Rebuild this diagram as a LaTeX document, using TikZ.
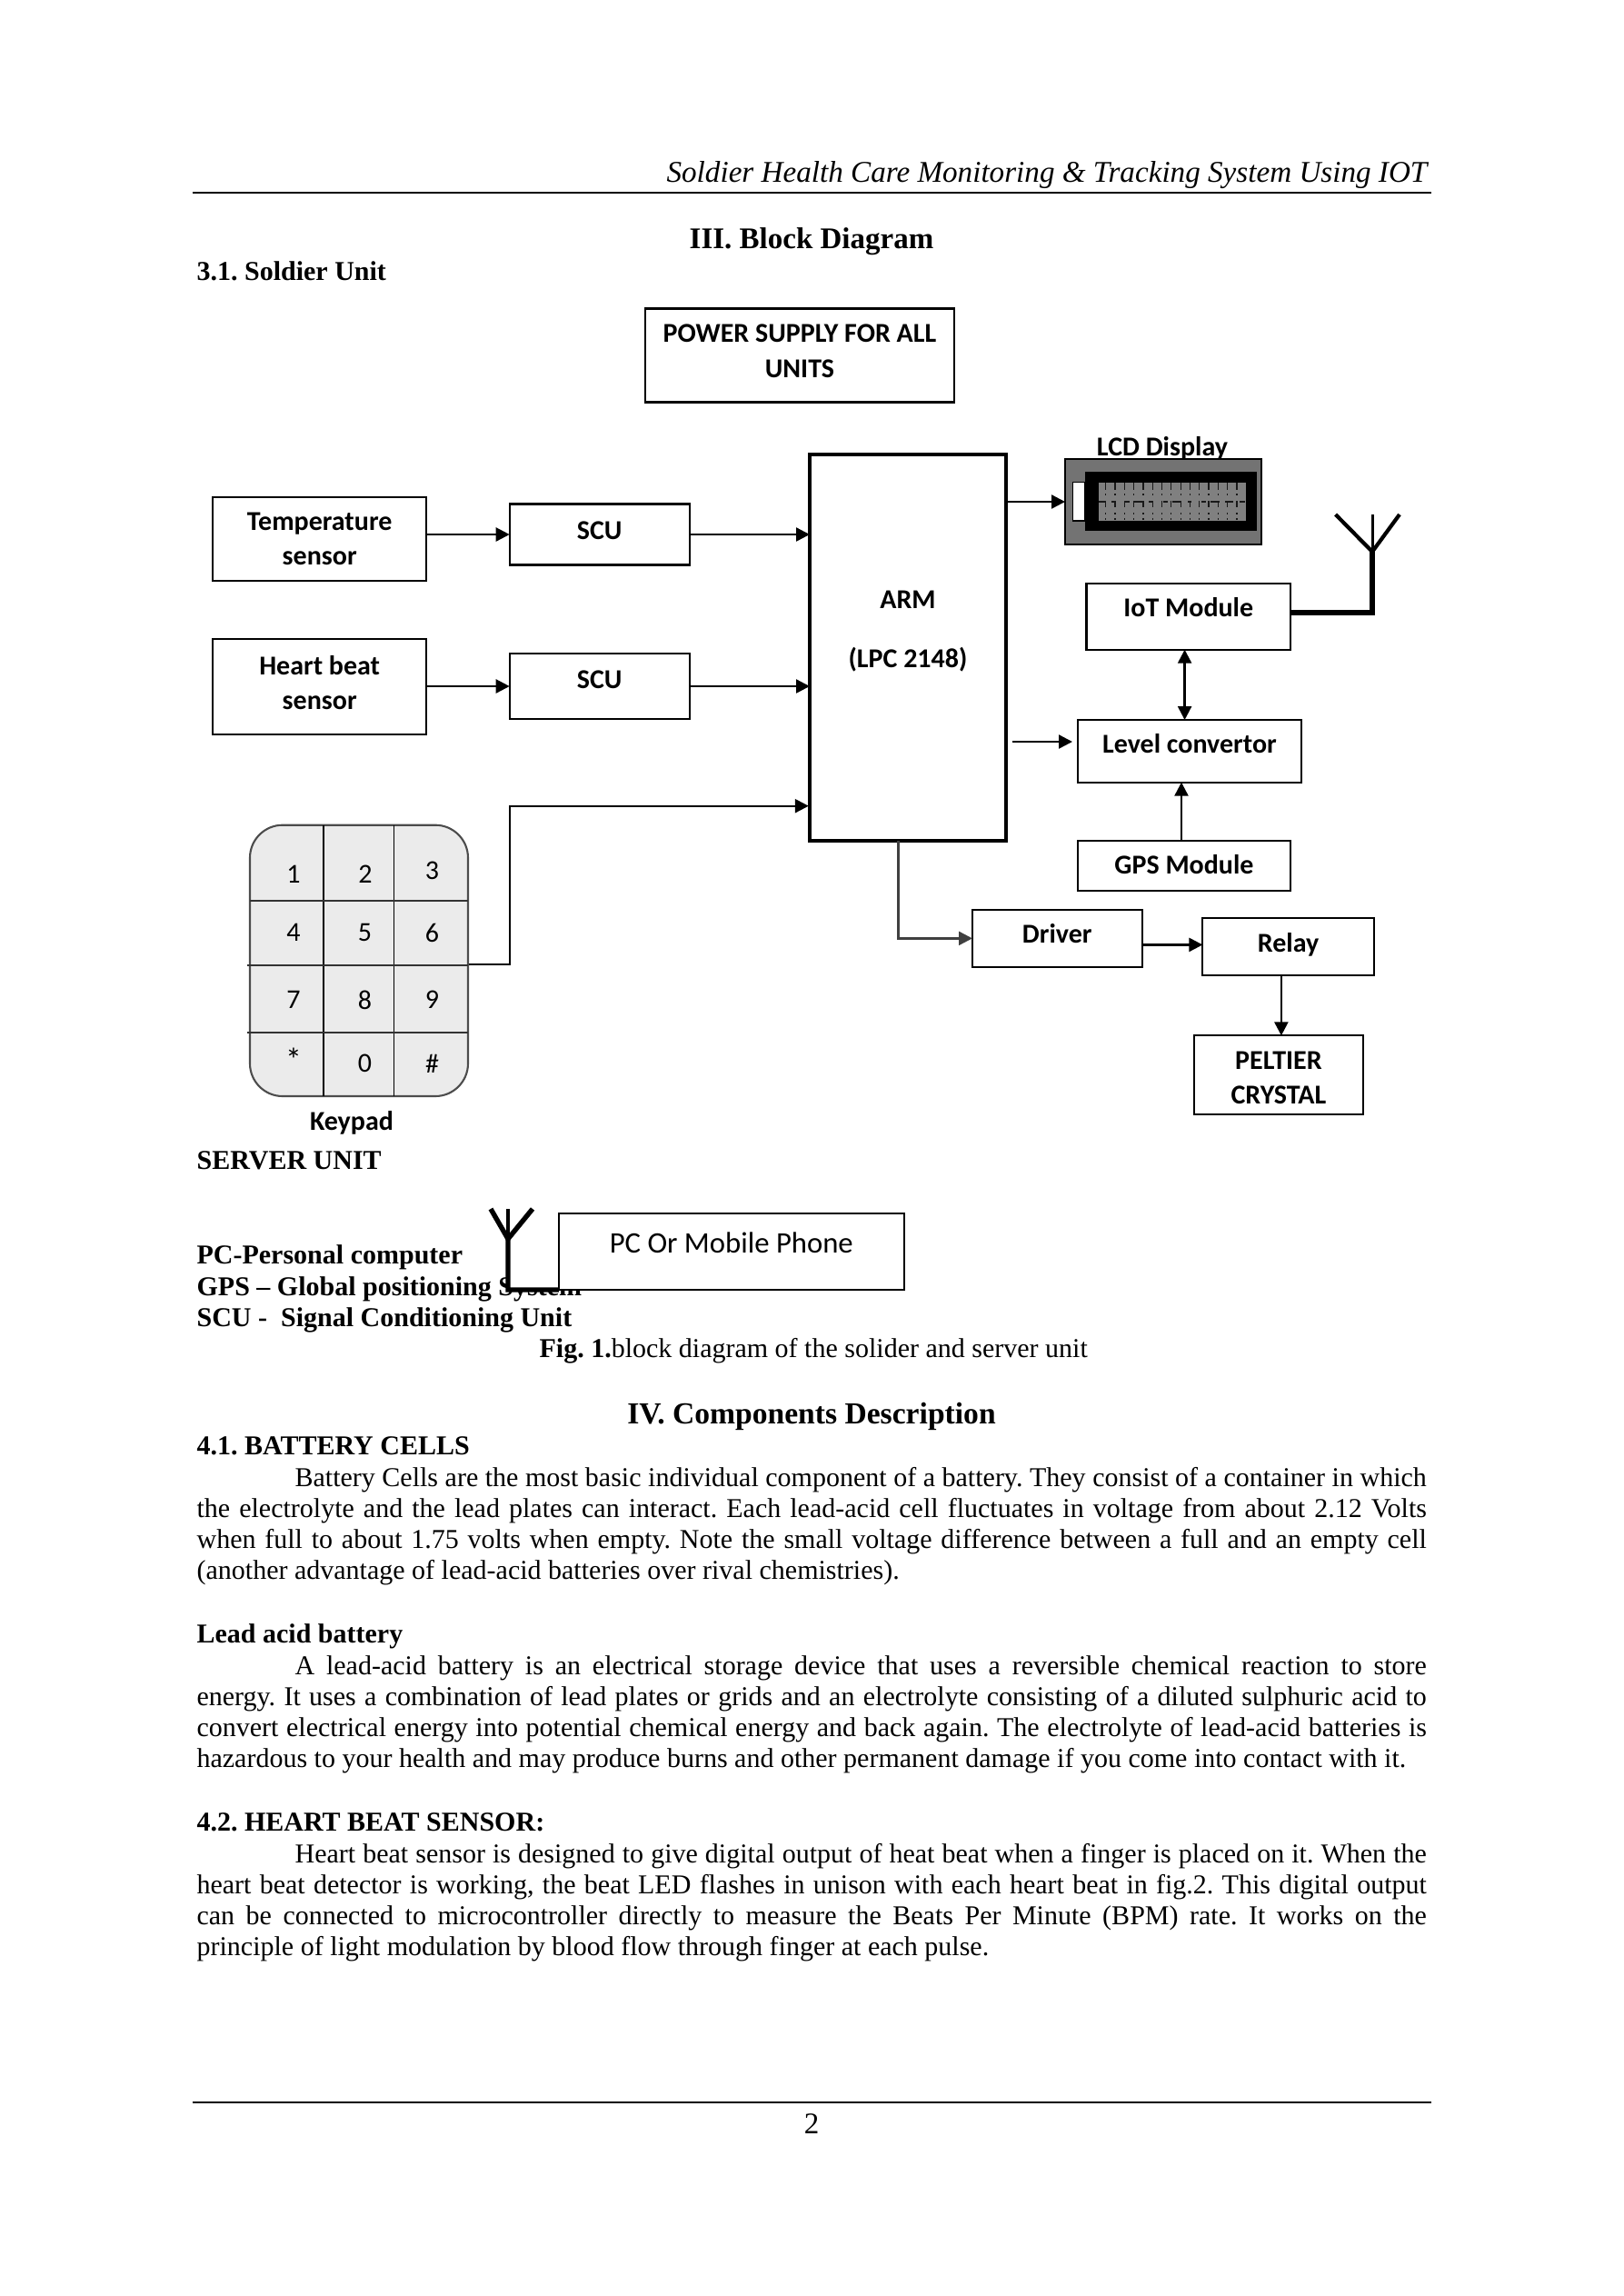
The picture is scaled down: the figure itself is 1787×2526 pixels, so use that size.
\documentclass[tikz,border=0pt]{standalone}
\usepackage{fontspec}
\setmainfont{Liberation Serif}
\newfontfamily\carlito{Carlito}
\usetikzlibrary{positioning, arrows.meta}
\frenchspacing
\tikzset{
    blockbox/.style 2 args = {draw, line width=.7bp, inner sep=0pt, outer sep=0pt, align=center,
        minimum width=#1*.3333bp, minimum height=#2*.3333bp,
        font=\carlito\bfseries\fontsize{10bp}{12.8bp}\selectfont},
    lift/.style = {text height=0pt, text depth=#1},
    drop/.style = {text height=#1, text depth=0pt},
    keydigit/.style = {inner sep=0pt, font=\carlito\fontsize{10bp}{12bp}\selectfont},
    pageline/.style = {anchor=base west, inner sep=0pt, font=\fontsize{10bp}{11.43bp}\selectfont},
    pagebold/.style = {pageline, font=\bfseries\fontsize{10bp}{12bp}\selectfont},
    pagehead/.style = {anchor=base, inner sep=0pt, font=\bfseries\fontsize{11bp}{13bp}\selectfont},
    bodypar/.style = {anchor=base west, inner sep=0pt, text width=451bp, align=justify,
        font=\fontsize{10bp}{11.43bp}\selectfont},
    flow/.style = {-{Stealth[length=5bp, width=5bp, inset=0pt]}, line width=.8bp},
    twoway/.style = {{Stealth[length=5bp, width=5bp, inset=0pt]}-{Stealth[length=5bp, width=5bp, inset=0pt]}, line width=.8bp}
}
\begin{document}
\begin{tikzpicture} [x=.3333bp, y=.3333bp, on grid]
\useasboundingbox (0,0) rectangle (1787,-2526);
% page text above the diagram
\node (runhead) [anchor=base east, inner sep=0pt, font=\itshape\fontsize{11.05bp}{13bp}\selectfont] at (1571,-200.7)
    {Soldier Health Care Monitoring \& Tracking System Using IOT};
\coordinate (headl) at (211.6,-212);
\coordinate (headr) at (1575,-212);
\draw [line width=.5bp] (headl) -- (headr);
\node (sect3) [pagehead] at (893,-273) {III. Block Diagram};
\node (soldier) [pagebold] at (216,-308) {3.1. Soldier Unit};
% blocks
\node (power) [blockbox={340}{103}, drop=16bp] at (880,-391) {POWER SUPPLY FOR ALL\\UNITS};
\node (tempbox) [blockbox={235.4}{92}, drop=19.5bp] at (351.7,-592.7) {Temperature\\sensor};
\node (heartbox) [blockbox={235.4}{105}, drop=16.9bp, below = 162.5 of tempbox] {Heart beat\\sensor};
\node (scua) [blockbox={198}{67}, drop=3.4bp] at (659.7,-588) {SCU};
\node (scub) [blockbox={198}{72.7}, drop=1.5bp, below = 167 of scua] {SCU};
\node (arm) [blockbox={216}{425}, line width=1.4bp, drop=14.5bp] at (999,-712.5) {ARM\\[8.9bp](LPC 2148)};
\node (iot) [blockbox={224.5}{72.7}, drop=.2bp] at (1307.75,-678.35) {IoT Module};
\node (level) [blockbox={246}{68.7}, drop=1.5bp] at (1309,-826.35) {Level convertor};
\node (gps) [blockbox={234}{55.3}, drop=6bp] at (1303,-952.35) {GPS Module};
\node (driver) [blockbox={186.6}{62.7}, drop=3.4bp] at (1163.3,-1032.35) {Driver};
\node (relay) [blockbox={188.4}{63}, drop=3.6bp] at (1417.6,-1041.8) {Relay};
\node (peltier) [blockbox={185.8}{86.4}, drop=21.3bp] at (1406.9,-1182.5) {PELTIER\\CRYSTAL};
% lcd
\node (lcd) [draw=black, fill=black!55, line width=.6bp, inner sep=0pt, outer sep=0pt,
    minimum width=216*.3333bp, minimum height=94*.3333bp] at (1280,-552) {};
\fill [black] (1193.5,-519) rectangle (1382.5,-584);
\filldraw [fill=white, draw=black, line width=.4bp] (1180.6,-530.7) rectangle (1193.5,-573);
\fill [black!50] (1209,-530.7) rectangle (1370.6,-573);
\foreach \i in {0,...,14} {
    \draw [black!90, line width=.4bp] (1216.7+10.3*\i,-531) -- ++(0,-8)
        (1216.7+10.3*\i,-543) -- ++(0,-2) (1216.7+10.3*\i,-551) -- ++(0,-7)
        (1216.7+10.3*\i,-564) -- ++(0,-2) (1216.7+10.3*\i,-570) -- ++(0,-2);
}
\foreach \a/\b in {1209/1217,1223/1228,1238/1243,1247/1258,1264/1269,1280/1285,1290/1300,1307/1311,1322/1327,1332/1342,1348/1357,1364/1370} {
    \draw [black!90, line width=.4bp] (\a,-552) -- (\b,-552);
}
\node (lcdlabel) [anchor=base, inner sep=0pt, font=\carlito\bfseries\fontsize{10bp}{12bp}\selectfont] at (1279,-501.6) {LCD Display};
% keypad
\node (keypad) [draw=black!70, fill=black!8, line width=.7bp, inner sep=0pt, outer sep=0pt, rounded corners=12bp,
    minimum width=240*.3333bp, minimum height=298.3*.3333bp] at (395,-1056.85) {};
\draw [line width=.5bp] (356,-907.7) -- (356,-1206) (433.7,-907.7) -- (433.7,-1206);
\draw [line width=.6bp, black!80] (275,-991.3) -- (515,-991.3);
\draw [line width=.6bp, black!80] (272,-1061.7) -- (515,-1061.7);
\draw [line width=.6bp, black!80] (272,-1136) -- (515,-1136);
\foreach \name/\txt/\x/\y in {ka/1/323/961.7, kb/2/402/961.7, kc/3/475.5/958.3,
        kd/4/323/1026, ke/5/401.5/1026, kf/6/475.5/1026,
        kg/7/323/1100, kh/8/401.5/1100, ki/9/475.5/1100,
        kj/{\large *}/323/1165.7, kk/0/401.5/1170, kl/\#/475.5/1170} {
    \node (\name) [keydigit] at (\x,-\y) {\txt};
}
\node (keylabel) [anchor=base, inner sep=0pt, font=\carlito\bfseries\fontsize{10bp}{12bp}\selectfont] at (387,-1243.6) {Keypad};
% connectors
\coordinate (keyout) at (516,-1061);
\coordinate (keyup) at (561,-1061);
\coordinate (armin) at (889.8,-886.7);
\coordinate (armout) at (988.6,-925);
\coordinate (levelfrom) at (1113.6,-816);
\coordinate (levelto) at (1180,-816);
\coordinate (iotlink) at (1303.6,-714.7);
\coordinate (gpsup) at (1300,-924.7);
\path [flow]
    (tempbox.east |- scua.west) edge (scua.west)
    (scua.east) edge (scua.east -| arm.west)
    (heartbox.east |- scub.west) edge (scub.west)
    (scub.east) edge (scub.east -| arm.west)
    (arm.east |- lcd.west) edge (lcd.west)
    (levelfrom) edge (levelto)
    (gpsup) edge (gpsup |- level.south)
    ([yshift=.8bp]driver.east |- relay.west) edge ([yshift=.8bp]relay.west)
    ([xshift=1bp]peltier.north |- relay.south) edge ([xshift=1bp]peltier.north);
\draw [flow] (keyout) -- (keyup) |- (armin);
\draw [flow, black!75] (armout) |- (driver.west);
\draw [twoway] (iotlink) -- (iotlink |- level.north);
% antenna of the iot module
\coordinate (antfoot) at (1510,-674);
\coordinate (anttip) at (1510,-607);
\coordinate (antl) at (1469.6,-566);
\coordinate (antm) at (1510,-566);
\coordinate (antr) at (1540,-566);
\draw [line width=1.7bp] (iot.east |- antfoot) -- (antfoot) -- (anttip);
\draw [line width=1.4bp] (antl) -- (anttip) -- (antr);
\draw [line width=1bp] (antm) -- (anttip);
% page text below the diagram
\node (server) [pagebold] at (216,-1286) {SERVER UNIT};
\node (abbra) [pagebold] at (216,-1390) {PC-Personal computer};
\node (abbrb) [pagebold] at (216,-1425) {GPS -- Global positioning System};
\node (abbrc) [pagebold] at (216,-1459) {SCU -\ \ Signal Conditioning Unit};
% server unit sits on top of the text
\fill [white] (559,-1330) rectangle (615,-1419);
\node (pc) [draw, fill=white, line width=.7bp, inner sep=0pt, outer sep=0pt, minimum width=379.6*.3333bp, minimum height=84.3*.3333bp,
    drop=1bp, font=\carlito\fontsize{10.9bp}{12bp}\selectfont] at (804.8,-1376.85) {PC Or Mobile Phone};
\coordinate (srvfoot) at (559,-1419);
\coordinate (srvtip) at (559,-1363);
\coordinate (srvl) at (540,-1330);
\coordinate (srvm) at (559,-1330);
\coordinate (srvr) at (586,-1330);
\draw [line width=1.8bp] (pc.south west) -- (srvfoot) -- (srvtip);
\draw [line width=1.8bp] (srvl) -- (srvtip) -- (srvr);
\draw [line width=1.3bp] (srvm) -- (srvtip);
\node (caption) [pageline] at (593,-1493) {\textbf{Fig. 1.}block diagram of the solider and server unit};
\node (sect4) [pagehead, font=\bfseries\fontsize{11.2bp}{13bp}\selectfont] at (893,-1566) {IV. Components Description};
\node (batt) [pagebold] at (216,-1600) {4.1. BATTERY CELLS};
\node (battpar) [bodypar] at (216,-1635) {\hspace*{36bp}Battery Cells are the most basic individual component of a battery. They consist of a container in which\linebreak
the electrolyte and the lead plates can interact. Each lead-acid cell fluctuates in voltage from about 2.12 Volts\linebreak
when full to about 1.75 volts when empty. Note the small voltage difference between a full and an empty cell\linebreak
(another advantage of lead-acid batteries over rival chemistries).};
\node (lead) [pagebold] at (216,-1807) {Lead acid battery};
\node (leadpar) [bodypar] at (216,-1842) {\hspace*{36bp}A lead-acid battery is an electrical storage device that uses a reversible chemical reaction to store\linebreak
energy. It uses a combination of lead plates or grids and an electrolyte consisting of a diluted sulphuric acid to\linebreak
convert electrical energy into potential chemical energy and back again. The electrolyte of lead-acid batteries is\linebreak
hazardous to your health and may produce burns and other permanent damage if you come into contact with it.};
\node (heart) [pagebold] at (216,-2014) {4.2. HEART BEAT SENSOR:};
\node (heartpar) [bodypar] at (216,-2049) {\hspace*{36bp}Heart beat sensor is designed to give digital output of heat beat when a finger is placed on it. When the\linebreak
heart beat detector is working, the beat LED flashes in unison with each heart beat in fig.2. This digital output\linebreak
can be connected to microcontroller directly to measure the Beats Per Minute (BPM) rate. It works on the\linebreak
principle of light modulation by blood flow through finger at each pulse.};
% footer
\coordinate (footl) at (211.6,-2313);
\coordinate (footr) at (1575,-2313);
\draw [line width=.5bp] (footl) -- (footr);
\node (pagenum) [anchor=base, inner sep=0pt, font=\fontsize{11bp}{13bp}\selectfont] at (893,-2347) {2};
\end{tikzpicture}
\end{document}
